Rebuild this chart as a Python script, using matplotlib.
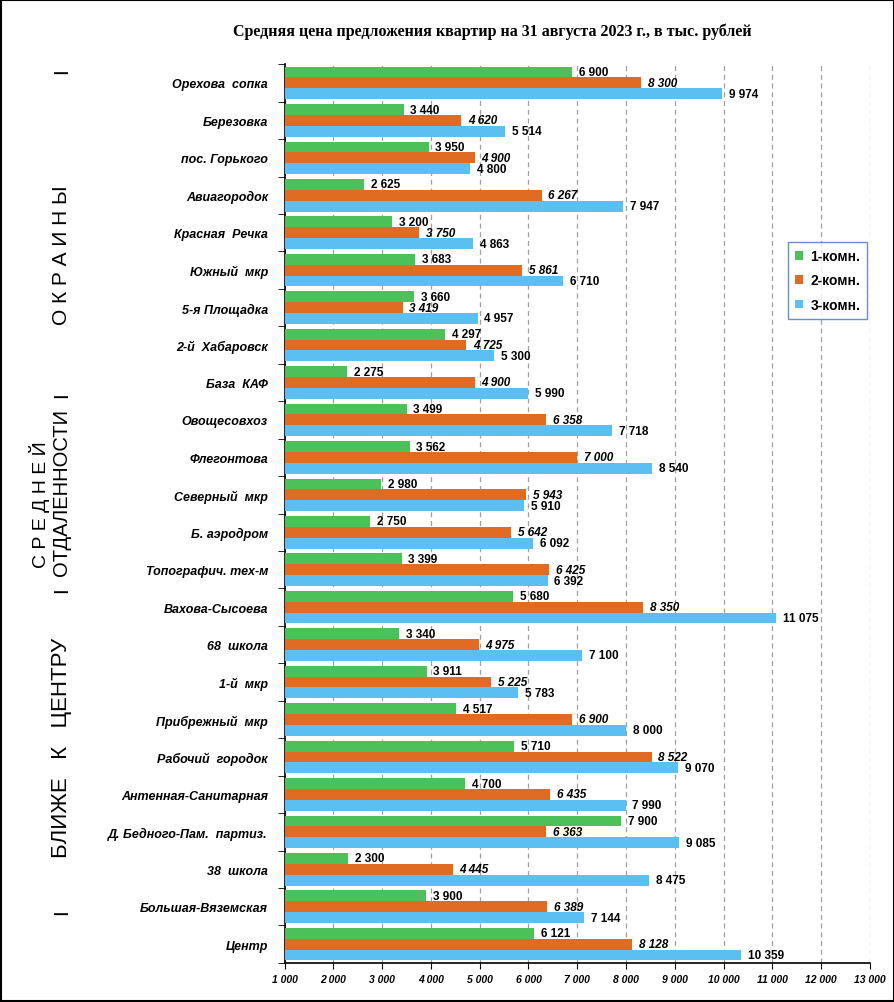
import matplotlib
matplotlib.use('Agg')
import matplotlib.pyplot as plt
from matplotlib.patches import Rectangle
from matplotlib.ticker import FuncFormatter, MultipleLocator
import numpy as np

# data, top to bottom as in the chart
districts = ['Орехова  сопка', 'Березовка', 'пос. Горького', 'Авиагородок', 'Красная  Речка',
             'Южный  мкр', '5-я Площадка', '2-й  Хабаровск', 'База  КАФ', 'Овощесовхоз',
             'Флегонтова', 'Северный  мкр', 'Б. аэродром', 'Топографич. тех-м', 'Вахова-Сысоева',
             '68  школа', '1-й  мкр', 'Прибрежный  мкр', 'Рабочий  городок', 'Антенная-Санитарная',
             'Д. Бедного-Пам.  партиз.', '38  школа', 'Большая-Вяземская', 'Центр']
room1 = [6900, 3440, 3950, 2625, 3200, 3683, 3660, 4297, 2275, 3499, 3562, 2980, 2750, 3399,
         5680, 3340, 3911, 4517, 5710, 4700, 7900, 2300, 3900, 6121]
room2 = [8300, 4620, 4900, 6267, 3750, 5861, 3419, 4725, 4900, 6358, 7000, 5943, 5642, 6425,
         8350, 4975, 5225, 6900, 8522, 6435, 6363, 4445, 6389, 8128]
room3 = [9974, 5514, 4800, 7947, 4863, 6710, 4957, 5300, 5990, 7718, 8540, 5910, 6092, 6392,
         11075, 7100, 5783, 8000, 9070, 7990, 9085, 8475, 7144, 10359]
series_names = ['1-комн.', '2-комн.', '3-комн.']
colors = ['#4CC15A', '#E06C24', '#5BC0F1']

def fmt(v):
    return '{:,}'.format(int(v)).replace(',', ' ')

fig = plt.figure(figsize=(8.95, 10.03), dpi=100)
ax = fig.add_axes([0.318, 0.039, 0.654, 0.896])

n = len(districts)
y = np.arange(n)
h = 0.29
left = 1000
for k, (vals, c) in enumerate(zip([room1, room2, room3], colors)):
    pos = y + (k - 1) * h
    ax.barh(pos, np.array(vals) - left, left=left, height=h, color=c, label=series_names[k], zorder=3)
    for p, v in zip(pos, vals):
        ax.text(v + 140, p, fmt(v), va='center', ha='left', fontsize=8.5, fontweight='bold',
                fontstyle='italic' if k == 1 else 'normal', family='Liberation Sans', zorder=4)

ax.set_ylim(n - 0.5, -0.5)
ax.set_xlim(1000, 13000)
ax.xaxis.set_major_locator(MultipleLocator(1000))
ax.xaxis.set_major_formatter(FuncFormatter(lambda v, p: fmt(v)))
ax.tick_params(axis='x', labelsize=7.5, length=4, direction='out', pad=4)
for t in ax.get_xticklabels():
    t.set_fontweight('bold')
    t.set_fontstyle('italic')
    t.set_family('Liberation Sans')

ax.set_yticks(y)
ax.set_yticklabels(districts, fontsize=9, fontweight='bold', fontstyle='italic', family='Liberation Sans')
ax.tick_params(axis='y', length=0, pad=12)
ax.set_yticks(np.arange(n + 1) - 0.5, minor=True)
ax.tick_params(axis='y', which='minor', length=5, direction='out')

ax.grid(axis='x', color='#A0A0A0', linestyle=(0, (4, 3)), linewidth=0.9, zorder=0)
ax.spines['top'].set_visible(False)
ax.spines['right'].set_visible(False)
ax.spines['left'].set_linewidth(1.2)
ax.spines['bottom'].set_linewidth(1.2)

leg = ax.legend(loc='upper left', bbox_to_anchor=(0.86, 0.802), frameon=True, fancybox=False,
                handlelength=0.6, handleheight=0.6, handletextpad=0.5, labelspacing=0.75,
                borderpad=0.5, borderaxespad=0,
                prop={'family': 'Liberation Sans', 'weight': 'bold', 'size': 10})
leg.get_frame().set_edgecolor('#4472C4')
leg.get_frame().set_linewidth(1.0)

fig.text(0.550, 0.968, 'Средняя цена предложения квартир на 31 августа 2023 г., в тыс. рублей',
         ha='center', va='center', fontsize=11.5, fontweight='bold', family='Liberation Serif')

# side group captions
side = dict(rotation=90, ha='center', va='center', family='Liberation Sans', fontsize=15)
fig.text(0.069, 1 - 71 / 1003, 'I', **side)
fig.text(0.069, 1 - 255 / 1003, 'О К Р А И Н Ы', **side)
fig.text(0.069, 1 - 395 / 1003, 'I', **side)
fig.text(0.044, 1 - 505 / 1003, 'С Р Е Д Н Е Й', fontsize=14,
         rotation=90, ha='center', va='center', family='Liberation Sans')
fig.text(0.069, 1 - 493 / 1003, 'ОТДАЛЕННОСТИ', fontsize=14.5,
         rotation=90, ha='center', va='center', family='Liberation Sans')
fig.text(0.069, 1 - 590 / 1003, 'I', **side)
fig.text(0.069, 1 - 748 / 1003, 'БЛИЖЕ   К   ЦЕНТРУ', fontsize=16,
         rotation=90, ha='center', va='center', family='Liberation Sans')
fig.text(0.069, 1 - 912 / 1003, 'I', **side)

fig.patches.append(Rectangle((0.001, 0.001), 0.998, 0.998, transform=fig.transFigure,
                             fill=False, edgecolor='black', linewidth=1.5))

fig.savefig('out.png', dpi=100)
